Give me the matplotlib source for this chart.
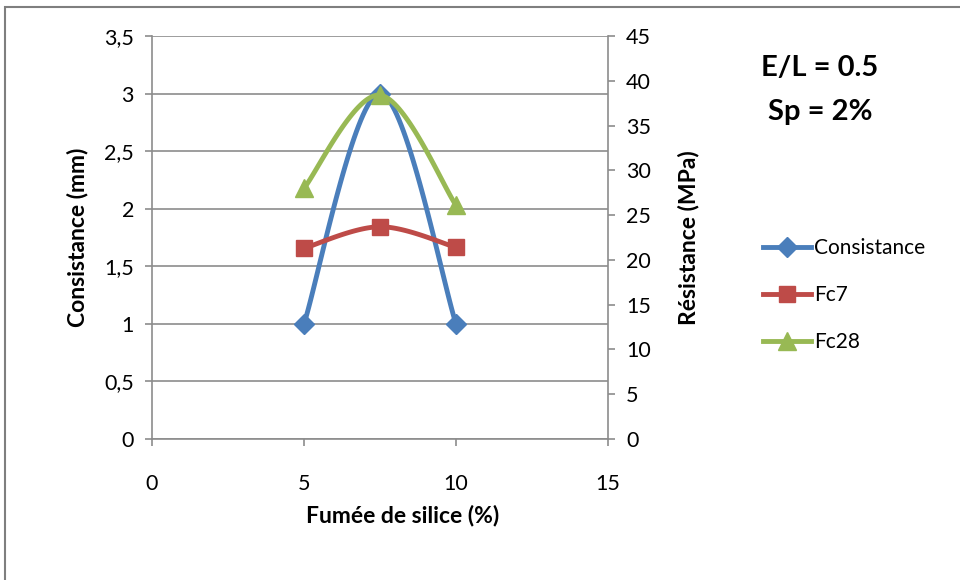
import numpy as np
import matplotlib.pyplot as plt
from matplotlib.patches import Rectangle
from matplotlib.ticker import FuncFormatter, MultipleLocator

plt.rcParams['font.family'] = ['Lato', 'DejaVu Sans']

fumee = [5, 7.5, 10]
consistance = [1.0, 3.0, 1.0]
fc7 = [21.3, 23.7, 21.4]
fc28 = [28.0, 38.4, 26.1]

BLUE = '#4A7EBB'
RED = '#BE4B48'
GREEN = '#98B954'
GRID = '#8C8C8C'


def smooth(xs, ys, n=40):
    # courbe lissée façon Excel (Bézier, tangentes type Catmull-Rom)
    p = np.column_stack([xs, ys]).astype(float)
    ext = np.vstack([p[0], p, p[-1]])
    out = []
    t = np.linspace(0, 1, n)[:, None]
    for i in range(len(p) - 1):
        p0, p3 = p[i], p[i + 1]
        c1 = p0 + (ext[i + 2] - ext[i]) / 6
        c2 = p3 - (ext[i + 3] - ext[i + 1]) / 6
        seg = ((1 - t) ** 3) * p0 + 3 * ((1 - t) ** 2) * t * c1 + 3 * (1 - t) * t ** 2 * c2 + t ** 3 * p3
        out.append(seg)
    curve = np.vstack(out)
    return curve[:, 0], curve[:, 1]


def virgule(v, pos):
    s = ('%g' % v)
    return s.replace('.', ',')


fig = plt.figure(figsize=(9.6, 5.8), dpi=100)
fig.patches.append(Rectangle((5 / 960, -0.1), 1.2, 1.1 - 7 / 580,
                             transform=fig.transFigure, fill=False,
                             edgecolor='#7F7F7F', linewidth=1.5))

ax = fig.add_axes([152 / 960, 1 - 439 / 580, 456 / 960, 403 / 580])
ax2 = ax.twinx()

ax.set_xlim(0, 15)
ax.set_ylim(0, 3.5)
ax2.set_ylim(0, 45)
ax.xaxis.set_major_locator(MultipleLocator(5))
ax.yaxis.set_major_locator(MultipleLocator(0.5))
ax2.yaxis.set_major_locator(MultipleLocator(5))
ax.yaxis.set_major_formatter(FuncFormatter(virgule))

ax.grid(axis='y', color=GRID, linewidth=1.2)
ax.set_axisbelow(True)
for a in (ax, ax2):
    for side in ('top', 'right', 'left', 'bottom'):
        a.spines[side].set_visible(False)
ax.spines['left'].set_visible(True)
ax.spines['bottom'].set_visible(True)
ax2.spines['right'].set_visible(True)
for sp in (ax.spines['left'], ax.spines['bottom'], ax2.spines['right']):
    sp.set_color(GRID)
    sp.set_linewidth(1.2)

ax.tick_params(axis='both', direction='out', length=5, width=1.2, color=GRID,
               labelsize=15.5, pad=8)
ax2.tick_params(axis='y', direction='out', length=5, width=1.2, color=GRID,
                labelsize=15.5, pad=8)
ax.tick_params(axis='x', pad=20)

x1, y1 = smooth(fumee, consistance)
ax.plot(x1, y1, color=BLUE, linewidth=3.5, solid_capstyle='round', zorder=3)
ax.plot(fumee, consistance, linestyle='none', marker='D', markersize=10,
        color=BLUE, zorder=4)

x2, y2 = smooth(fumee, fc7)
ax2.plot(x2, y2, color=RED, linewidth=3.5, solid_capstyle='round', zorder=3)
ax2.plot(fumee, fc7, linestyle='none', marker='s', markersize=11,
         color=RED, zorder=4)

x3, y3 = smooth(fumee, fc28)
ax2.plot(x3, y3, color=GREEN, linewidth=3.5, solid_capstyle='round', zorder=3)
ax2.plot(fumee, fc28, linestyle='none', marker='^', markersize=13,
         color=GREEN, zorder=4)

ax.set_xlabel('Fumée de silice (%)', fontsize=16.5, fontweight='bold')
ax.xaxis.set_label_coords((403 - 152) / 456, (439 - 505) / 403)
ax.set_ylabel('Consistance (mm)', fontsize=16.5, fontweight='bold', labelpad=11)
ax2.set_ylabel('Résistance (MPa)', fontsize=16.5, fontweight='bold', labelpad=19)

fig.text(820 / 960, 1 - 68 / 580, 'E/L = 0.5', fontsize=21, fontweight='bold',
         ha='center', va='center')
fig.text(820 / 960, 1 - 112 / 580, 'Sp = 2%', fontsize=21, fontweight='bold',
         ha='center', va='center')

handles = [
    plt.Line2D([], [], color=BLUE, linewidth=3.5, marker='D', markersize=10),
    plt.Line2D([], [], color=RED, linewidth=3.5, marker='s', markersize=11),
    plt.Line2D([], [], color=GREEN, linewidth=3.5, marker='^', markersize=13),
]
fig.legend(handles, ['Consistance', 'Fc7', 'Fc28'], loc='center left',
           bbox_to_anchor=(753 / 960, 1 - 295 / 580), frameon=False,
           fontsize=15, handlelength=2.3, handletextpad=0.15, labelspacing=1.3,
           borderpad=0)

fig.savefig('out.png', dpi=100)
